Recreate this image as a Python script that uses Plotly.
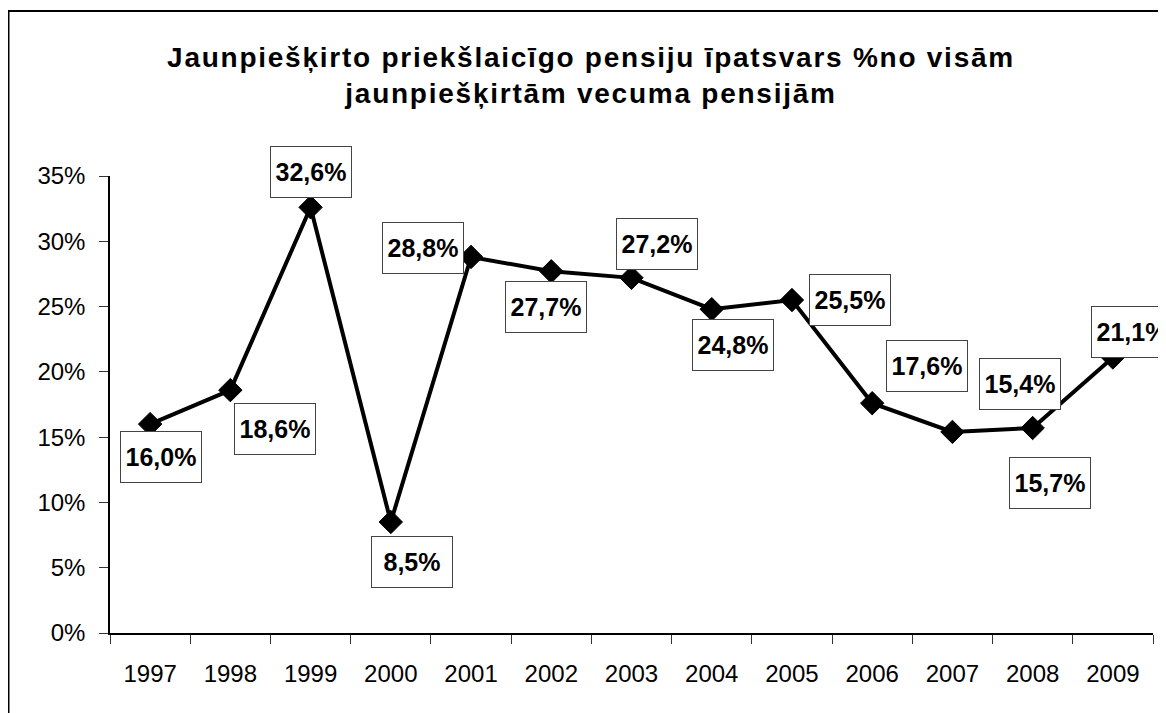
import plotly.graph_objects as go

# data
years = ["1997", "1998", "1999", "2000", "2001", "2002", "2003",
         "2004", "2005", "2006", "2007", "2008", "2009"]
share = [0.160, 0.186, 0.326, 0.085, 0.288, 0.277, 0.272,
         0.248, 0.255, 0.176, 0.154, 0.157, 0.211]
value_labels = ["16,0%", "18,6%", "32,6%", "8,5%", "28,8%", "27,7%", "27,2%",
                "24,8%", "25,5%", "17,6%", "15,4%", "15,7%", "21,1%"]
y_ticks = [0, 0.05, 0.10, 0.15, 0.20, 0.25, 0.30, 0.35]
y_tick_text = ["0%", "5%", "10%", "15%", "20%", "25%", "30%", "35%"]

title_lines = ["Jaunpiešķirto priekšlaicīgo pensiju īpatsvars %no visām",
               "jaunpiešķirtām vecuma pensijām"]

# where each label box sits relative to its point (pixels: right, up)
label_offsets = [(11, -33), (45, -39), (0, 35), (21, -40), (-48, 9), (-5, -36), (25, 34),
                 (21, -36), (58, 0), (55, 37), (68, 48), (17, -55), (19, 25)]

FONT = "Liberation Sans, Arial, sans-serif"
W, H = 1158, 705  # page body adds an 8px margin
ML, MR, MT, MB = 102, 13, 168, 80
plot_w, plot_h = W - ML - MR, H - MT - MB

fig = go.Figure()
fig.add_trace(go.Scatter(
    x=years, y=share, mode="lines+markers",
    line=dict(color="black", width=4),
    marker=dict(symbol="diamond", size=18, color="black", line=dict(color="black", width=1)),
    showlegend=False, hoverinfo="skip",
))

# category axis: annotations are placed by category index
for i, (v, txt, (dx, dy)) in enumerate(zip(share, value_labels, label_offsets)):
    fig.add_annotation(
        x=i, y=v, xref="x", yref="y", text=txt, showarrow=False, xshift=dx, yshift=dy,
        font=dict(family=FONT, size=25, color="black", weight="bold"),
        bgcolor="white", bordercolor="#444444", borderwidth=1, borderpad=0,
        width=80, height=50, align="center", valign="middle",
    )

title_html = "<br>".join(
    f"<span style='letter-spacing:1.75px'>{line}</span>" for line in title_lines
)

fig.update_layout(
    width=W, height=H,
    paper_bgcolor="white", plot_bgcolor="white",
    margin=dict(l=ML, r=MR, t=MT, b=MB),
    font=dict(family=FONT, color="black"),
    title=dict(
        text=title_html, x=583 / W, xanchor="center", xref="container",
        y=1 - 59 / H, yanchor="top", yref="container",
        font=dict(family=FONT, size=28, color="black", weight="bold"),
    ),
    xaxis=dict(
        type="category", range=[-0.5, 12.5], showgrid=False, zeroline=False,
        showline=True, linecolor="black", linewidth=1.5,
        ticks="outside", tickson="boundaries", ticklen=9, tickcolor="#333333", tickwidth=1,
        tickfont=dict(size=24, color="black"), ticklabelstandoff=18,
    ),
    yaxis=dict(
        range=[0, 0.35], tickvals=y_ticks, ticktext=y_tick_text,
        showgrid=False, zeroline=False,
        showline=True, linecolor="black", linewidth=1.5,
        ticks="outside", ticklen=9, tickcolor="#333333", tickwidth=1,
        tickfont=dict(size=24, color="black"), ticklabelstandoff=9,
    ),
    # chart-area frame: left edge at the figure edge, top 3px down, right/bottom cut off
    shapes=[dict(
        type="rect", xref="paper", yref="paper",
        x0=(0.5 - ML) / plot_w, x1=1.1, y0=-0.4, y1=(plot_h + MT - 3) / plot_h,
        line=dict(color="black", width=2), fillcolor="rgba(0,0,0,0)", layer="below",
    )],
)

fig.write_html("out.html")
